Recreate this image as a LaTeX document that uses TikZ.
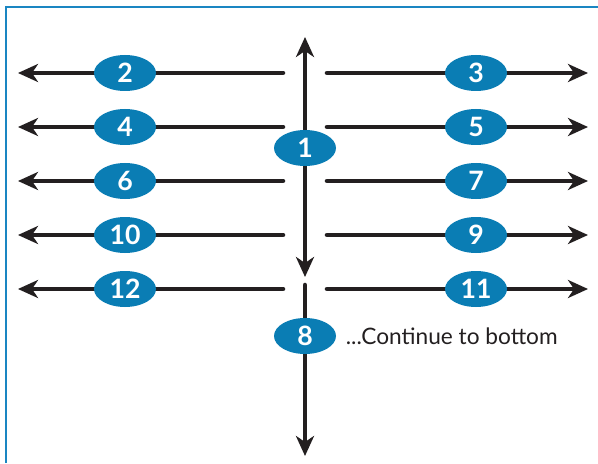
\documentclass[tikz,border=0pt]{standalone}
\usepackage{fontspec}
\setmainfont{Lato}
\usetikzlibrary{arrows.meta,positioning,shapes.geometric}
\definecolor{badgeblue}{HTML}{0A7DB4}
\definecolor{framblue}{HTML}{1A86C2}
\definecolor{inkblack}{HTML}{231F20}
\tikzset{
  tip/.tip={Stealth[length=15pt,width=13.5pt,inset=4.5pt]},
  badge/.style={ellipse,fill=badgeblue,text=white,inner sep=0pt,
    minimum width=46.5pt,minimum height=27pt,font=\fontsize{20}{20}\selectfont\bfseries},
  arr/.style={draw=inkblack,line width=3.4pt,-tip},
}
\begin{document}
\begin{tikzpicture}[x=0.75pt,y=-0.75pt]
   \useasboundingbox (0,0) rectangle (598,463);
   % frame, open at right and bottom
   \draw[framblue,line width=2.2pt] (6,463) -- (6,7) -- (598,7);
   % rows of arrows going out from the middle
   \foreach \l/\r/\y in {2/3/73, 4/5/127, 6/7/181, 10/9/235, 12/11/289} {
      \coordinate (ls\l) at (283,\y);
      \coordinate (le\l) at (18,\y);
      \coordinate (rs\r) at (327,\y);
      \coordinate (re\r) at (588,\y);
      \draw[arr,line cap=round] (ls\l) -- (le\l);
      \draw[arr,line cap=round] (rs\r) -- (re\r);
      \node[badge] (n\l) at (125,\y) {\l};
      \node[badge] (n\r) at (476,\y) {\r};
   }
   % the middle column
   \coordinate (up) at (305,37);
   \coordinate (down) at (305,277);
   \coordinate (start) at (305,285);
   \coordinate (bottom) at (305,456);
   \draw[arr,tip-tip] (down) -- (up);
   \draw[arr,line cap=round] (start) -- (bottom);
   \node[badge] (n1) at (305,148) {1};
   \node[badge] (n8) at (305,336) {8};
   \node[anchor=west,inner sep=0pt,text=inkblack,font=\fontsize{17}{17}\selectfont] (cont) [right=7pt of n8] {...Continue to bottom};
\end{tikzpicture}
\end{document}
